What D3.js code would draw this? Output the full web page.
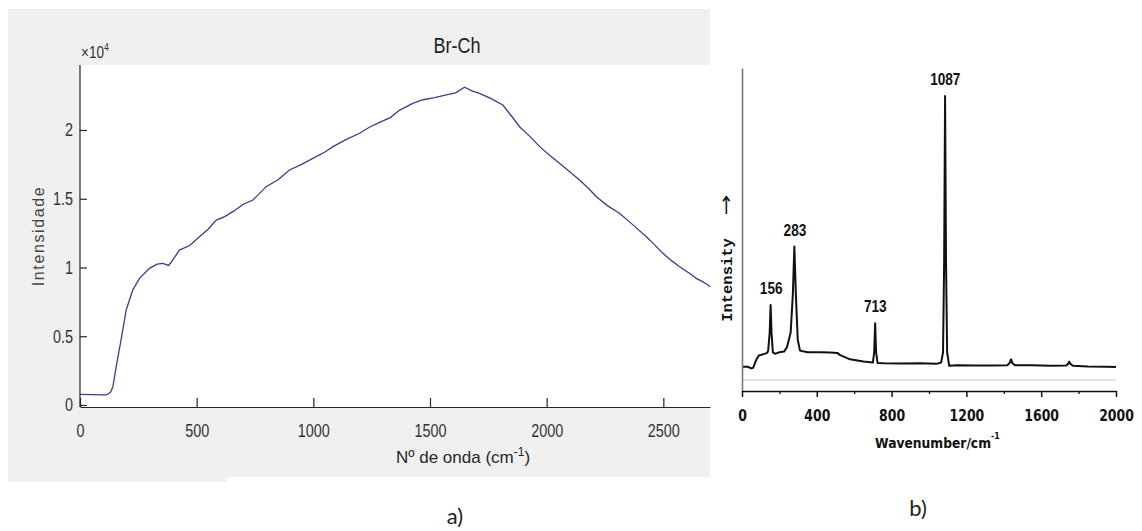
<!DOCTYPE html>
<html>
<head>
<meta charset="utf-8">
<script src="https://cdn.jsdelivr.net/npm/d3@7"></script>
<style>
  body { margin: 0; background: #fff; }
  svg { display: block; }
</style>
</head>
<body>
<div id="chart"></div>
<script>
// ---- panel a) : Br-Ch spectrum (wavenumber, intensity) ----
const brWavenumber = [0, 50, 100, 112, 130, 141, 155, 176, 198, 226, 255, 298, 330, 355, 380, 398, 426, 470, 512, 550,
  584, 620, 655, 700, 741, 798, 850, 898, 950, 1012, 1050, 1084, 1140, 1198, 1240, 1284, 1330, 1370, 1426, 1470,
  1520, 1570, 1610, 1648, 1680, 1712, 1760, 1812, 1850, 1884, 1930, 1970, 2010, 2055, 2100, 2141, 2180, 2213,
  2260, 2312, 2370, 2427, 2460, 2498, 2535, 2570, 2610, 2641, 2670, 2691, 2700];
const brIntensity = [780, 760, 740, 730, 900, 1330, 2790, 4730, 6910, 8360, 9210, 9940, 10250, 10300, 10150, 10550, 11270, 11600, 12240, 12800,
  13450, 13700, 14060, 14600, 14910, 15880, 16400, 17090, 17500, 18060, 18400, 18790, 19300, 19760, 20200, 20550, 20900, 21450, 21940, 22200,
  22350, 22550, 22700, 23110, 22850, 22670, 22300, 21820, 21000, 20240, 19500, 18790, 18200, 17580, 16950, 16360, 15750, 15150,
  14500, 13940, 13100, 12240, 11700, 11030, 10500, 10060, 9600, 9210, 8950, 8730, 8600];
const brXTicks = [0, 500, 1000, 1500, 2000, 2500];
const brYTicks = [0, 5000, 10000, 15000, 20000];

// ---- panel b) : reference Raman spectrum ----
const refWavenumber = [0, 30, 50, 60, 75, 90, 120, 135, 140, 148, 153, 158, 165, 175, 200, 225, 240, 260, 272, 280, 288, 298, 310,
  350, 420, 470, 510, 525, 578, 649, 700, 707, 712, 717, 725, 760, 850, 950, 1040, 1065, 1075, 1081, 1086, 1091, 1097, 1108,
  1150, 1250, 1350, 1420, 1432, 1439, 1446, 1460, 1550, 1650, 1735, 1745, 1750, 1756, 1770, 1850, 1950, 2000];
const refIntensity = [7.5, 7.5, 7.0, 7.2, 9.5, 11.0, 11.5, 11.8, 12.5, 18, 26.6, 18, 12.0, 11.5, 12.0, 12.2, 13.5, 18, 30, 44.7, 30, 16, 12.5,
  12.0, 12.0, 11.9, 11.8, 11.1, 9.8, 9.1, 8.8, 12, 21.0, 12, 8.7, 8.6, 8.5, 8.6, 8.4, 8.8, 12, 40, 91.3, 40, 12, 7.8,
  8.0, 7.9, 7.9, 8.0, 8.8, 9.8, 8.6, 8.0, 8.0, 7.8, 7.9, 8.5, 9.1, 8.4, 7.8, 7.6, 7.5, 7.4];
const refXTicks = [0, 400, 800, 1200, 1600, 2000];
const refMinorTicks = [200, 600, 1000, 1400, 1800];
const peakLabels = ["156", "283", "713", "1087"];
const peakPositions = [156, 283, 713, 1087];
const peakHeights = [26.6, 44.7, 21.0, 91.3];

const svg = d3.select("#chart").append("svg")
  .attr("width", 1142)
  .attr("height", 531);

// ================= panel a =================
const axisColor = "#262626";
const sans = "'Liberation Sans', Arial, sans-serif";
const squeeze = 0.8; // reference ticks use a condensed face

svg.append("rect").attr("x", 8).attr("y", 9).attr("width", 702).attr("height", 468).attr("fill", "#f0f0f0");
svg.append("rect").attr("x", 8).attr("y", 477).attr("width", 219).attr("height", 5).attr("fill", "#f0f0f0");

const ax = d3.scaleLinear().domain([0, 2700]).range([80, 710]);
const ay = d3.scaleLinear().domain([0, 20000]).range([405, 130]);
const aTop = 65;

svg.append("rect")
  .attr("x", ax(0)).attr("y", aTop)
  .attr("width", ax(2700) - ax(0)).attr("height", ay(0) + 2 - aTop)
  .attr("fill", "#fff");

const aLine = d3.line()
  .x((d, i) => ax(brWavenumber[i]))
  .y(d => ay(d));

svg.append("path")
  .datum(brIntensity)
  .attr("d", aLine)
  .attr("fill", "none")
  .attr("stroke", "#3c3d8f")
  .attr("stroke-width", 1.3);

const xAxisA = svg.append("g")
  .attr("transform", "translate(0," + (ay(0) + 2) + ")")
  .call(d3.axisBottom(ax).tickValues(brXTicks).tickSizeInner(-9).tickSizeOuter(0).tickFormat(d3.format("d")));
xAxisA.selectAll("text").attr("y", 24).attr("dy", "0.35em");

const yAxisA = svg.append("g")
  .attr("transform", "translate(" + ax(0) + ",0)")
  .call(d3.axisLeft(ay).tickValues(brYTicks).tickSizeInner(-7).tickSizeOuter(0)
    .tickFormat(d => d3.format("~g")(d / 10000)));
yAxisA.selectAll("text").attr("x", -7 / squeeze);
// y axis reaches above the last tick
yAxisA.select(".domain").attr("d", "M0," + (ay(0) + 2) + "V" + aTop);

[xAxisA, yAxisA].forEach(g => {
  g.selectAll("path, line").attr("stroke", axisColor).attr("stroke-width", 1.2);
  g.selectAll("text").attr("fill", "#333").attr("font-family", sans).attr("font-size", 18)
    .attr("transform", "scale(" + squeeze + ",1)");
});

svg.append("text")
  .attr("transform", "translate(81,58) scale(" + squeeze + ",1)")
  .attr("font-family", sans).attr("font-size", 17).attr("fill", "#333")
  .text("×10")
  .append("tspan").attr("dy", -7).attr("font-size", 11).text("4");

svg.append("text")
  .attr("transform", "translate(457,45) scale(0.82,1)")
  .attr("dy", "0.35em")
  .attr("text-anchor", "middle")
  .attr("font-family", sans).attr("font-size", 22).attr("fill", "#222")
  .text("Br-Ch");

svg.append("text")
  .attr("transform", "translate(38,236) rotate(-90)")
  .attr("text-anchor", "middle").attr("dy", "0.35em")
  .attr("font-family", sans).attr("font-size", 16)
  .attr("letter-spacing", 1.6).attr("fill", "#444")
  .text("Intensidade");

const xlabA = svg.append("text")
  .attr("x", 396).attr("y", 463)
  .attr("font-family", sans).attr("font-size", 17).attr("fill", "#262626")
  .text("Nº de onda (cm");
xlabA.append("tspan").attr("dy", -7).attr("font-size", 12).text("-1");
xlabA.append("tspan").attr("dy", 7).text(")");

svg.append("text")
  .attr("x", 455).attr("y", 516).attr("dy", "0.35em")
  .attr("text-anchor", "middle")
  .attr("font-family", "Lato, sans-serif").attr("font-size", 22).attr("fill", "#222")
  .text("a)");

// ================= panel b =================
const bx = d3.scaleLinear().domain([0, 2000]).range([742, 1116]);
const by = d3.scaleLinear().domain([0, 100]).range([391, 68]);

// faint scanned guide line just above the axis
svg.append("line")
  .attr("x1", bx(0)).attr("x2", bx(2000))
  .attr("y1", by(3.4)).attr("y2", by(3.4))
  .attr("stroke", "#c8c8c8").attr("stroke-width", 1);

const bLine = d3.line()
  .x((d, i) => bx(refWavenumber[i]))
  .y(d => by(d));

svg.append("path")
  .datum(refIntensity)
  .attr("d", bLine)
  .attr("fill", "none")
  .attr("stroke", "#111")
  .attr("stroke-width", 2)
  .attr("stroke-linejoin", "round");

const yAxisB = svg.append("g")
  .attr("transform", "translate(" + bx(0) + ",0)")
  .call(d3.axisLeft(by).tickValues([]).tickSizeOuter(0));
yAxisB.select(".domain").attr("stroke", "#7a7a7a").attr("stroke-width", 1.6);

const xAxisB = svg.append("g")
  .attr("transform", "translate(0," + by(0) + ")")
  .call(d3.axisBottom(bx).tickValues(refXTicks).tickSizeInner(6).tickSizeOuter(0).tickFormat(d3.format("d")));
xAxisB.selectAll("path, line").attr("stroke", "#111").attr("stroke-width", 1.5);
xAxisB.selectAll("text")
  .attr("y", 24).attr("dy", "0.35em")
  .attr("fill", "#111")
  .attr("font-family", "'DejaVu Sans', sans-serif").attr("font-size", 16).attr("font-weight", "bold")
  .attr("transform", "scale(0.78,1)");

svg.append("g")
  .attr("transform", "translate(0," + by(0) + ")")
  .call(d3.axisBottom(bx).tickValues(refMinorTicks).tickSizeInner(3).tickSizeOuter(0).tickFormat(""))
  .call(g => g.select(".domain").remove())
  .selectAll("line").attr("stroke", "#111").attr("stroke-width", 1.3);

svg.selectAll(".peak-label")
  .data(peakLabels)
  .join("text")
  .attr("class", "peak-label")
  .attr("transform", (d, i) => "translate(" + bx(peakPositions[i]) + "," + (by(peakHeights[i]) - 11) + ") scale(0.8,1)")
  .attr("text-anchor", "middle")
  .attr("font-family", sans).attr("font-size", 17).attr("font-weight", "bold").attr("fill", "#111")
  .text(d => d);

const xlabB = svg.append("text")
  .attr("transform", "translate(875,448) scale(0.88,1)")
  .attr("font-family", "'DejaVu Sans', sans-serif").attr("font-size", 14).attr("font-weight", "bold").attr("fill", "#111")
  .text("Wavenumber/cm");
xlabB.append("tspan").attr("dy", -9).attr("font-size", 9).text("-1");

svg.append("text")
  .attr("transform", "translate(732,280) rotate(-90)")
  .attr("text-anchor", "middle")
  .attr("font-family", "'Liberation Mono', monospace").attr("font-size", 15.5).attr("font-weight", "bold").attr("fill", "#111")
  .text("Intensity");

svg.append("text")
  .attr("transform", "translate(732,205) rotate(-90) scale(1.4,1)")
  .attr("text-anchor", "middle")
  .attr("font-family", "'DejaVu Sans', sans-serif").attr("font-size", 18).attr("fill", "#111")
  .text("→");

svg.append("text")
  .attr("x", 918).attr("y", 508).attr("dy", "0.35em")
  .attr("text-anchor", "middle")
  .attr("font-family", "Lato, sans-serif").attr("font-size", 22).attr("fill", "#222")
  .text("b)");
</script>
</body>
</html>
